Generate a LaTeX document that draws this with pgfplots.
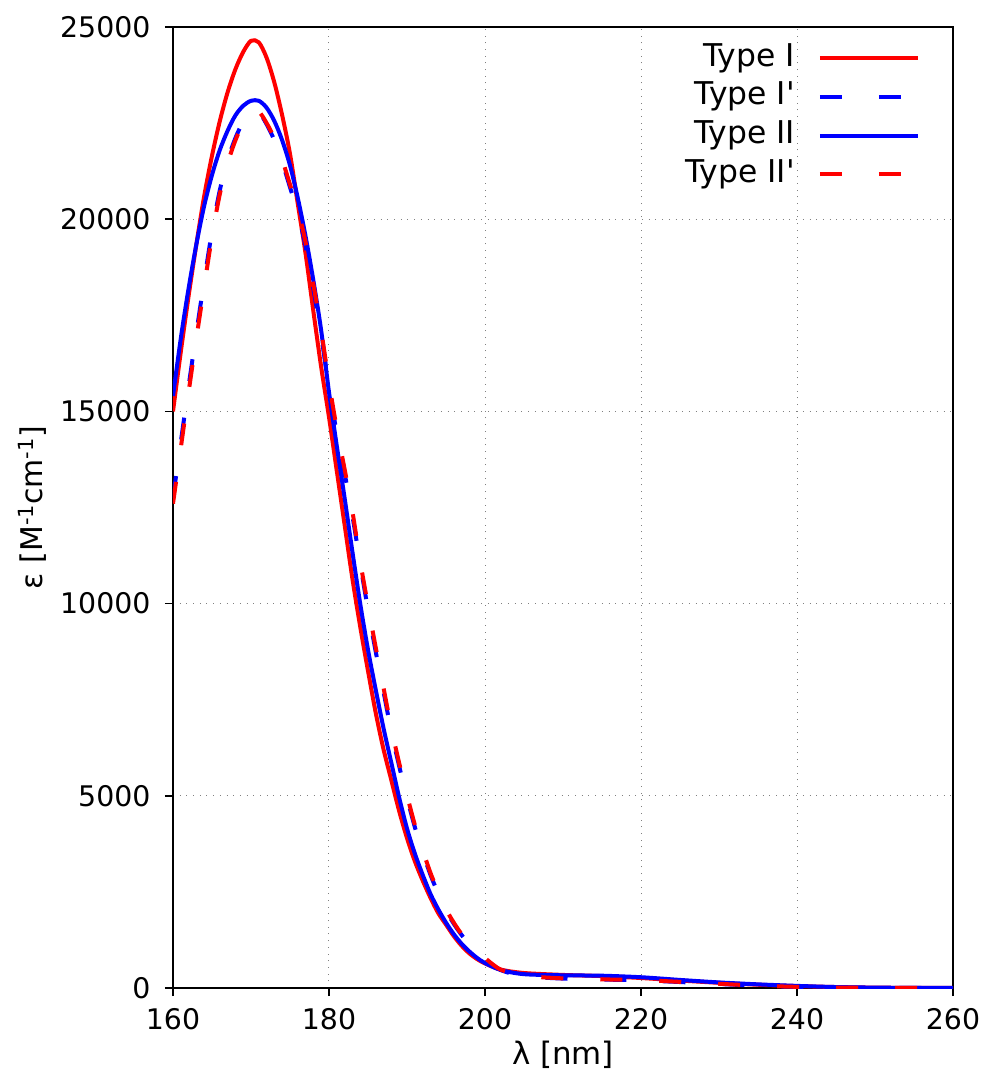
\documentclass[border=0pt]{standalone}
\usepackage{fontspec}
\setmainfont{DejaVu Sans}
\usepackage{pgfplots}
\pgfplotsset{compat=1.18}

% Type I (red, solid)
\pgfplotstableread{
x y
160 15000
161 16550
162 18000
163 19350
164 20600
165 21650
166 22550
167 23300
168 23900
169 24350
170 24640
171 24600
172 24200
173 23550
174 22700
175 21700
176 20400
177 19100
178 17600
179 16150
180 14850
181 13450
182 12050
183 10650
184 9400
185 8250
186 7150
187 6200
188 5400
189 4600
190 3900
191 3300
192 2800
193 2350
194 1950
195 1650
196 1350
197 1100
198 900
199 750
200 640
202 480
205 390
210 340
215 310
220 260
225 195
230 135
235 85
240 50
245 25
250 10
255 3
260 0
}\typeI

% Type I' (blue, dashed)
\pgfplotstableread{
x y
160 12750
161 14200
162 15650
163 17050
164 18400
165 19680
166 20750
167 21530
168 22110
169 22540
170 22830
171 22790
172 22470
173 22050
174 21490
175 20830
176 20170
177 19290
178 18180
179 16980
180 15630
181 14430
182 13390
183 12290
184 11040
185 9840
186 8740
187 7700
188 6660
189 5770
190 4950
191 4190
192 3540
193 2950
194 2460
195 2020
196 1670
197 1380
198 1130
199 930
200 760
202 470
205 310
210 245
215 220
220 200
225 155
230 105
235 58
240 28
245 10
250 5
260 0
}\typeIp

% Type II (blue, solid)
\pgfplotstableread{
x y
160 15400
161 16900
162 18200
163 19350
164 20350
165 21150
166 21800
167 22300
168 22700
169 22950
170 23080
171 23080
172 22900
173 22550
174 22050
175 21400
176 20550
177 19550
178 18400
179 17100
180 15500
181 14100
182 12750
183 11350
184 10000
185 8800
186 7750
187 6750
188 5850
189 4950
190 4150
191 3500
192 2950
193 2450
194 2050
195 1700
196 1400
197 1150
198 950
199 780
200 650
202 470
205 360
210 330
215 320
220 280
225 210
230 145
235 95
240 55
245 25
250 10
255 3
260 0
}\typeII

% Type II' (red, dashed)
\pgfplotstableread{
x y
160 12600
161 14050
162 15500
163 16900
164 18250
165 19550
166 20650
167 21450
168 22050
169 22500
170 22800
171 22800
172 22500
173 22100
174 21550
175 20900
176 20250
177 19400
178 18300
179 17100
180 15750
181 14550
182 13500
183 12400
184 11100
185 9950
186 8850
187 7800
188 6750
189 5850
190 5020
191 4250
192 3600
193 3000
194 2500
195 2050
196 1700
197 1400
198 1150
199 950
200 780
202 480
205 320
210 250
215 225
220 205
225 160
230 110
235 60
240 30
245 10
250 5
260 0
}\typeIIp

\begin{document}
\begin{tikzpicture}
\useasboundingbox (-173bp,-86bp) rectangle (817bp,988bp);
\begin{axis}[
    at={(0,0)}, anchor=south west,
    scale only axis,
    width=780bp, height=961bp,
    xmin=160, xmax=260, ymin=0, ymax=25000,
    xtick={160,180,...,260},
    ytick={0,5000,...,25000},
    scaled y ticks=false,
    /pgf/number format/1000 sep={},
    /pgf/number format/assume math mode=true,
    tick align=outside,
    xtick pos=left, ytick pos=left,
    major tick length=8bp,
    every tick/.style={black, line width=1.5bp},
    axis line style={line width=1.5bp},
    tick label style={font=\fontsize{28.5}{34}\selectfont},
    xticklabel style={yshift=-9bp},
    yticklabel style={xshift=-11bp},
    ymajorgrids, xmajorgrids,
    major grid style={gray, line width=1bp, dash pattern=on 1bp off 5.7bp},
    xlabel={λ [nm]},
    ylabel={ε [M\textsuperscript{-1}cm\textsuperscript{-1}]},
    xlabel style={font=\fontsize{31}{36}\selectfont},
    xlabel shift=4bp,
    ylabel style={font=\fontsize{30}{36}\selectfont},
    ylabel shift=7bp,
    legend style={draw=none, fill=none, inner sep=0pt,
        at={(1,1)}, anchor=north east, xshift=-33bp, yshift=-16bp,
        font=\fontsize{31.5}{37}\selectfont,
        nodes={inner sep=0pt, text height=23bp, text depth=7bp},
        row sep=8.7bp,
        /tikz/every odd column/.append style={column sep=23bp}},
    legend cell align=right,
    legend plot pos=right,
    legend image code/.code={\draw[#1] (0bp,0bp) -- (98bp,0bp);},
]
\addplot[red, line width=4bp, smooth, line join=round] table[x=x, y=y] {\typeI};
\addlegendentry{Type I}
\addplot[blue, line width=4bp, smooth, dash pattern=on 22bp off 37bp] table[x=x, y=y] {\typeIp};
\addlegendentry{Type I\textquotesingle}
\addplot[blue, line width=4bp, smooth, line join=round] table[x=x, y=y] {\typeII};
\addlegendentry{Type II}
\addplot[red, line width=4bp, smooth, dash pattern=on 22bp off 37bp] table[x=x, y=y] {\typeIIp};
\addlegendentry{Type II\textquotesingle}
\end{axis}
\end{tikzpicture}
\end{document}
